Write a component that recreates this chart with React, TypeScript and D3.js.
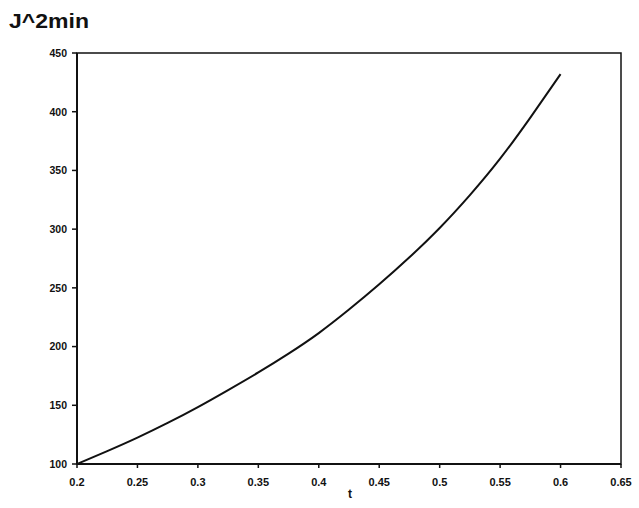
import React from "react";
import * as d3 from "d3";

const tValues = [0.2, 0.225, 0.25, 0.275, 0.3, 0.325, 0.35, 0.375, 0.4, 0.425, 0.45, 0.475, 0.5, 0.525, 0.55, 0.575, 0.6];
const jValues = [100, 111, 122.5, 135, 148.5, 163, 178, 194, 211.5, 231.5, 253, 276, 301, 329, 360, 395, 432];
const xTicks = [0.2, 0.25, 0.3, 0.35, 0.4, 0.45, 0.5, 0.55, 0.6, 0.65];
const yTicks = [100, 150, 200, 250, 300, 350, 400, 450];
const title = "J^2min";
const xLabel = "t";

export default function App() {
  const W = 639, H = 508;
  const left = 77, right = 621, top = 53, bottom = 464;
  const x = d3.scaleLinear().domain([0.2, 0.65]).range([left, right]);
  const y = d3.scaleLinear().domain([100, 450]).range([bottom, top]);
  const pts = tValues.map((t, i) => [t, jValues[i]] as [number, number]);
  const line = d3.line<[number, number]>().x(d => x(d[0])).y(d => y(d[1])).curve(d3.curveNatural);
  const font = "'Liberation Sans', Arial, sans-serif";
  return (
    <svg width={W} height={H} style={{ position: "absolute", left: 0, top: 0, background: "#fff" }} fontFamily={font}>
      <rect x={0} y={0} width={W} height={H} fill="#fff" />
      <text x={9} y={28} fontSize={20} fontWeight="bold" fill="#111" textLength={80} lengthAdjust="spacingAndGlyphs">{title}</text>
      <rect x={left} y={top} width={right - left} height={bottom - top} fill="none" stroke="#111" strokeWidth={1.5} />
      <line x1={left} y1={top} x2={left} y2={bottom} stroke="#111" strokeWidth={2} />
      <line x1={left} y1={bottom} x2={right} y2={bottom} stroke="#111" strokeWidth={2} />
      {yTicks.map(v => (
        <g key={"y" + v}>
          <line x1={left - 5} x2={left} y1={y(v)} y2={y(v)} stroke="#111" strokeWidth={1.5} />
          <text x={67} y={y(v) + 3.8} textAnchor="end" fontSize={10.5} fontWeight="bold" fill="#111">{v}</text>
        </g>
      ))}
      {xTicks.map(v => (
        <g key={"x" + v}>
          <line x1={x(v)} x2={x(v)} y1={bottom} y2={bottom + 4} stroke="#111" strokeWidth={1.5} />
          <text x={x(v)} y={486} textAnchor="middle" fontSize={11} fontWeight="bold" fill="#111">{String(v)}</text>
        </g>
      ))}
      <text x={350} y={498} textAnchor="middle" fontSize={12} fontWeight="bold" fill="#111">{xLabel}</text>
      <path d={line(pts) || ""} fill="none" stroke="#111" strokeWidth={2} />
    </svg>
  );
}
